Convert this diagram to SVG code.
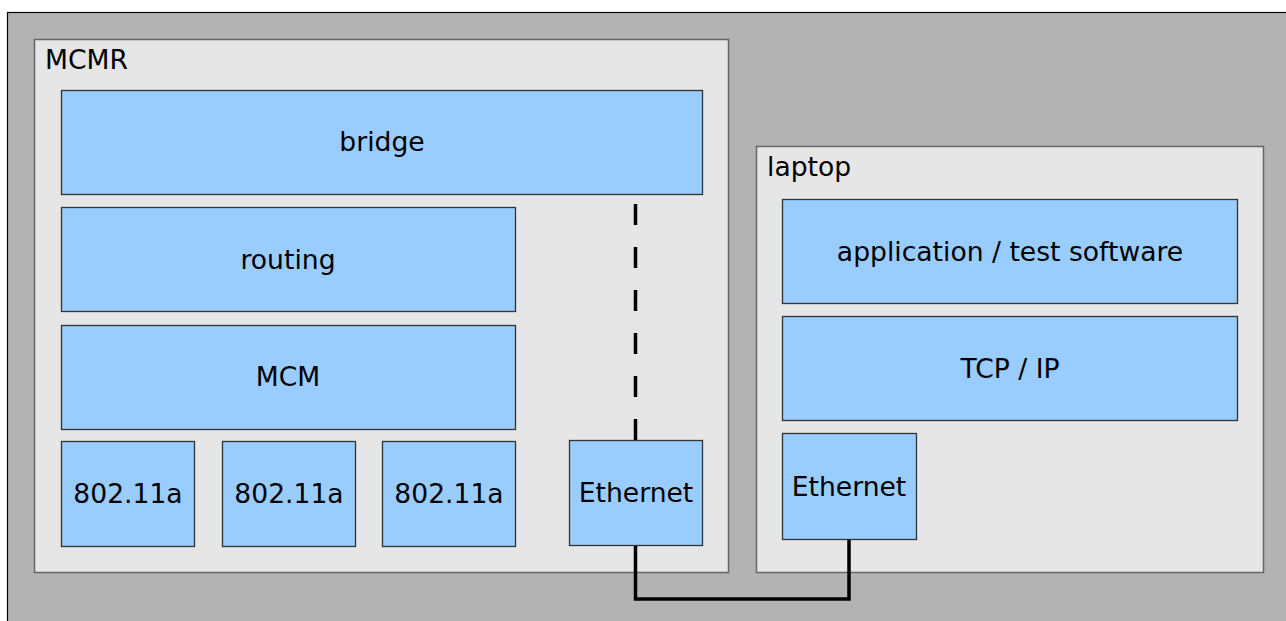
<svg xmlns="http://www.w3.org/2000/svg" width="1286" height="621" viewBox="0 0 1286 621">
  <style>
    .frame { fill: #b3b3b3; stroke: #000; stroke-width: 1.2; }
    .host { fill: #e6e6e6; stroke: #666; stroke-width: 1.5; }
    .layer { fill: #99ccff; stroke: #333; stroke-width: 1.3; }
    text { font-family: "DejaVu Sans", "Liberation Sans", sans-serif; font-size: 26.6px; fill: #000; }
    .c { text-anchor: middle; }
    .link { fill: none; stroke: #000; stroke-width: 3.5; }
  </style>
  <rect width="1286" height="621" fill="#fff"/>
  <rect class="frame" x="7.5" y="12.5" width="1290" height="620"/>

  <g id="mcmr">
    <rect class="host" x="34.5" y="39.5" width="694" height="533"/>
    <text x="45" y="69">MCMR</text>
  </g>
  <g id="laptop">
    <rect class="host" x="756.5" y="146.5" width="507" height="426"/>
    <text x="767" y="176">laptop</text>
  </g>

  <g id="bridge">
    <rect class="layer" x="61.5" y="90.5" width="641" height="104"/>
    <text class="c" x="382" y="151">bridge</text>
  </g>
  <g id="routing">
    <rect class="layer" x="61.5" y="207.5" width="454" height="104"/>
    <text class="c" x="288" y="269">routing</text>
  </g>
  <g id="mcm">
    <rect class="layer" x="61.5" y="325.5" width="454" height="104"/>
    <text class="c" x="288" y="386">MCM</text>
  </g>
  <g id="wifi1">
    <rect class="layer" x="61.5" y="441.5" width="133" height="105"/>
    <text class="c" x="128" y="503">802.11a</text>
  </g>
  <g id="wifi2">
    <rect class="layer" x="222.5" y="441.5" width="133" height="105"/>
    <text class="c" x="289" y="503">802.11a</text>
  </g>
  <g id="wifi3">
    <rect class="layer" x="382.5" y="441.5" width="133" height="105"/>
    <text class="c" x="449" y="503">802.11a</text>
  </g>
  <g id="eth-mcmr">
    <rect class="layer" x="569.5" y="440.5" width="133" height="105"/>
    <text class="c" x="636" y="502">Ethernet</text>
  </g>

  <g id="app">
    <rect class="layer" x="782.5" y="199.5" width="455" height="104"/>
    <text class="c" x="1010" y="261">application / test software</text>
  </g>
  <g id="tcpip">
    <rect class="layer" x="782.5" y="316.5" width="455" height="104"/>
    <text class="c" x="1010" y="378">TCP / IP</text>
  </g>
  <g id="eth-laptop">
    <rect class="layer" x="782.5" y="433.5" width="134" height="106"/>
    <text class="c" x="849" y="496">Ethernet</text>
  </g>

  <g id="connectors">
    <line class="link" x1="635.5" y1="204" x2="635.5" y2="440" stroke-dasharray="21 22"/>
    <polyline class="link" points="635.5,546 635.5,599 849,599 849,540"/>
  </g>
</svg>
